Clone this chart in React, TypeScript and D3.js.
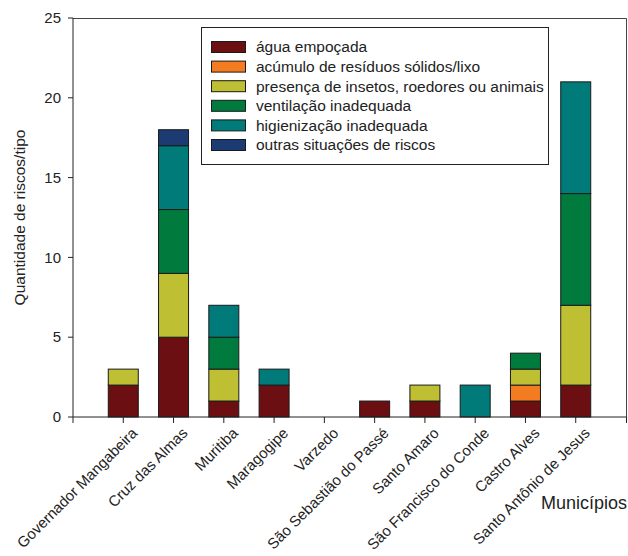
import * as React from 'react'
import * as d3 from 'd3'

const municipios = [
  'Governador Mangabeira',
  'Cruz das Almas',
  'Muritiba',
  'Maragogipe',
  'Varzedo',
  'São Sebastião do Passé',
  'Santo Amaro',
  'São Francisco do Conde',
  'Castro Alves',
  'Santo Antônio de Jesus',
]

const riscos = [
  'água empoçada',
  'acúmulo de resíduos sólidos/lixo',
  'presença de insetos, roedores ou animais',
  'ventilação inadequada',
  'higienização inadequada',
  'outras situações de riscos',
]

const aguaEmpocada = [2, 5, 1, 2, 0, 1, 1, 0, 1, 2]
const residuosLixo = [0, 0, 0, 0, 0, 0, 0, 0, 1, 0]
const insetosAnimais = [1, 4, 2, 0, 0, 0, 1, 0, 1, 5]
const ventilacao = [0, 4, 2, 0, 0, 0, 0, 0, 1, 7]
const higienizacao = [0, 4, 2, 1, 0, 0, 0, 2, 0, 7]
const outrasSituacoes = [0, 1, 0, 0, 0, 0, 0, 0, 0, 0]

const yTicks = [0, 5, 10, 15, 20, 25]

const colors = ['#6b0f12', '#f47c20', '#bfbf33', '#007a3d', '#007b7a', '#1b3b72']

const FONT = 'Liberation Sans, Arial, sans-serif'

export default function App() {
  const svgRef = React.useRef<SVGSVGElement>(null)

  React.useEffect(() => {
    if (!svgRef.current) return
    const width = 628
    const height = 556
    const svg = d3.select(svgRef.current)
    svg.selectAll('*').remove()
    svg.attr('width', width).attr('height', height)

    const x0 = 73
    const x1 = 626
    const yTop = 18
    const yBottom = 417

    // categories sit at 1..n on a linear scale spanning 0..n+1
    const x = d3.scaleLinear().domain([0, municipios.length + 1]).range([x0, x1])
    const y = d3.scaleLinear().domain([0, 25]).range([yBottom, yTop])
    const barW = 30

    const series = [aguaEmpocada, residuosLixo, insetosAnimais, ventilacao, higienizacao, outrasSituacoes]
    const rows = municipios.map((m, i) => {
      const r: Record<string, number | string> = { municipio: m, idx: i }
      riscos.forEach((k, j) => (r[k] = series[j][i]))
      return r
    })
    const stacked = d3.stack<Record<string, number | string>>().keys(riscos)(rows)

    // frame (top + right)
    svg
      .append('path')
      .attr('d', `M${x0},${yTop + 0.5}H${x1 + 0.5}V${yBottom}`)
      .attr('fill', 'none')
      .attr('stroke', '#444')

    stacked.forEach((layer, j) => {
      layer.forEach((d, i) => {
        if (d[1] - d[0] <= 0) return
        svg
          .append('rect')
          .attr('x', x(i + 1) - barW / 2)
          .attr('y', y(d[1]))
          .attr('width', barW)
          .attr('height', y(d[0]) - y(d[1]))
          .attr('fill', colors[j])
          .attr('stroke', '#1a1a1a')
          .attr('stroke-width', 1)
      })
    })

    // y axis
    const yAxis = svg.append('g').attr('transform', `translate(${x0},0)`)
    yAxis.append('line').attr('x1', 0).attr('x2', 0).attr('y1', yTop).attr('y2', yBottom).attr('stroke', '#222')
    yTicks.forEach((t) => {
      yAxis.append('line').attr('x1', -5).attr('x2', 0).attr('y1', y(t)).attr('y2', y(t)).attr('stroke', '#222')
      yAxis
        .append('text')
        .attr('x', -12)
        .attr('y', y(t))
        .attr('dy', '0.35em')
        .attr('text-anchor', 'end')
        .attr('font-family', FONT)
        .attr('font-size', '15px')
        .attr('fill', '#222')
        .text(t)
    })

    // x axis
    const xAxis = svg.append('g').attr('transform', `translate(0,${yBottom})`)
    xAxis.append('line').attr('x1', x0).attr('x2', x1 + 0.5).attr('y1', 0).attr('y2', 0).attr('stroke', '#222')
    xAxis.append('line').attr('x1', x0).attr('x2', x0).attr('y1', 0).attr('y2', 6).attr('stroke', '#222')
    xAxis.append('line').attr('x1', x1 + 0.5).attr('x2', x1 + 0.5).attr('y1', 0).attr('y2', 6).attr('stroke', '#222')
    municipios.forEach((m, i) => {
      const cx = x(i + 1)
      xAxis.append('line').attr('x1', cx).attr('x2', cx).attr('y1', 0).attr('y2', 6).attr('stroke', '#222')
      xAxis
        .append('text')
        .attr('transform', `translate(${cx + 15},${17}) rotate(-45)`)
        .attr('text-anchor', 'end')
        .attr('font-family', FONT)
        .attr('font-size', '15px')
        .attr('fill', '#222')
        .text(m)
    })

    // axis titles
    svg
      .append('text')
      .attr('transform', `translate(25,${(yTop + yBottom) / 2}) rotate(-90)`)
      .attr('text-anchor', 'middle')
      .attr('font-family', FONT)
      .attr('font-size', '15.5px')
      .attr('fill', '#222')
      .text('Quantidade de riscos/tipo')

    svg
      .append('text')
      .attr('x', 627)
      .attr('y', 509)
      .attr('text-anchor', 'end')
      .attr('font-family', FONT)
      .attr('font-size', '18px')
      .attr('fill', '#222')
      .text('Municípios')

    // legend
    const lg = svg.append('g')
    lg.append('rect')
      .attr('x', 201.5)
      .attr('y', 27.5)
      .attr('width', 347)
      .attr('height', 137)
      .attr('fill', '#fff')
      .attr('stroke', '#222')
    riscos.forEach((r, j) => {
      const cy = 47 + j * 19.6
      lg.append('rect')
        .attr('x', 211.5)
        .attr('y', cy - 5.5)
        .attr('width', 34)
        .attr('height', 11)
        .attr('fill', colors[j])
        .attr('stroke', '#1a1a1a')
      lg.append('text')
        .attr('x', 256)
        .attr('y', cy)
        .attr('dy', '0.35em')
        .attr('font-family', FONT)
        .attr('font-size', '15.5px')
        .attr('fill', '#222')
        .text(r)
    })
  }, [])

  return (
    <div style={{ position: 'fixed', left: 0, top: 0, background: '#fff' }}>
      <svg ref={svgRef} />
    </div>
  )
}
